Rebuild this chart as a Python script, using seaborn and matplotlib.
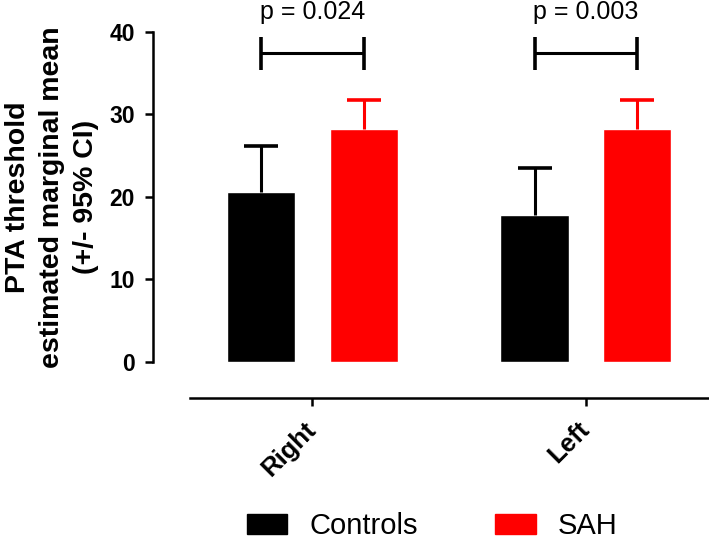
import numpy as np
import pandas as pd
import matplotlib
matplotlib.use("Agg")
import matplotlib.pyplot as plt
import seaborn as sns

# --- data ---
sides = ["Right", "Left"]
groups = ["Controls", "SAH"]
controls_mean = [20.6, 17.8]
sah_mean = [28.2, 28.2]
controls_upper = [26.1, 23.5]
sah_upper = [31.7, 31.7]
p_labels = ["p = 0.024", "p = 0.003"]
colors = ["#000000", "#ff0000"]

df = pd.DataFrame({
    "side": sides * 2,
    "group": [groups[0]] * 2 + [groups[1]] * 2,
    "mean": controls_mean + sah_mean,
})
uppers = {"Controls": controls_upper, "SAH": sah_upper}

sns.set_theme(style="ticks")
plt.rcParams["font.family"] = ["Liberation Sans", "DejaVu Sans"]
plt.rcParams.update({"text.color": "black", "axes.labelcolor": "black",
                     "xtick.color": "black", "ytick.color": "black",
                     "axes.edgecolor": "black"})

W, H = 709, 540
fig = plt.figure(figsize=(W / 100, H / 100), dpi=100)
ax = fig.add_axes([153 / W, 178 / H, 556 / W, 362 / H])

sns.barplot(data=df, x="side", y="mean", hue="group", order=sides,
            hue_order=groups, palette=colors, width=0.752, gap=0.338,
            errorbar=None, saturation=1, legend=False, ax=ax)

# error bars (upper CI only) and bar centres
centres = {}
for cont, grp, col in zip(ax.containers, groups, colors):
    xs = np.array([b.get_x() + b.get_width() / 2 for b in cont])
    hs = np.array([b.get_height() for b in cont])
    up = np.array(uppers[grp]) - hs
    eb = ax.errorbar(xs, hs, yerr=[np.zeros_like(up), up], fmt="none",
                     ecolor=col, elinewidth=2.2, capsize=12.5, capthick=2.6)
    eb[1][0].set_visible(False)  # no lower cap
    centres[grp] = xs

# significance brackets
for i, lab in enumerate(p_labels):
    x1, x2 = centres["Controls"][i], centres["SAH"][i]
    ax.plot([x1, x2], [37.4, 37.4], color="black", lw=2.2, solid_capstyle="butt")
    ax.vlines([x1, x2], 35.4, 39.4, color="black", lw=2.6)
    ax.text((x1 + x2) / 2, 41.5, lab, ha="center", va="baseline", fontsize=18)

ax.set_xlim(-0.583, 1.45)
ax.set_ylim(0, 43.84)
ax.set_yticks([0, 10, 20, 30, 40])
ax.set_xlabel("")
ax.set_ylabel("PTA threshold\nestimated marginal mean\n(+/- 95% CI)",
              fontsize=20.5, fontweight="bold", linespacing=1.4)
ax.yaxis.set_label_coords((99 - 153) / 556, 20 / 43.84)

for s in ["top", "right"]:
    ax.spines[s].set_visible(False)
ax.spines["left"].set_bounds(0, 40)
ax.spines["bottom"].set_position(("outward", 36 * 72 / 100))
ax.spines["bottom"].set_bounds(-0.448, 1.45)
for s in ["left", "bottom"]:
    ax.spines[s].set_linewidth(1.8)

ax.tick_params(axis="both", direction="out", length=6, width=1.8, color="black")
ax.tick_params(axis="y", labelsize=16.5, pad=7)
for t in ax.get_yticklabels():
    t.set_fontweight("bold")
ax.tick_params(axis="x", labelsize=18.5, pad=14)
for t in ax.get_xticklabels():
    t.set_fontweight("bold")
    t.set_rotation(45)
    t.set_ha("right")
    t.set_va("center")
    t.set_rotation_mode("anchor")

handles = [plt.Rectangle((0, 0), 1, 1, color=c) for c in colors]
fig.legend(handles, groups, loc="upper left", bbox_to_anchor=(247 / W, 1 - 512 / H),
           ncol=2, frameon=False, fontsize=21, borderpad=0, borderaxespad=0,
           handlelength=40 / 29, handletextpad=22 / 29, columnspacing=77 / 29)

fig.savefig("out.png", dpi=100)
